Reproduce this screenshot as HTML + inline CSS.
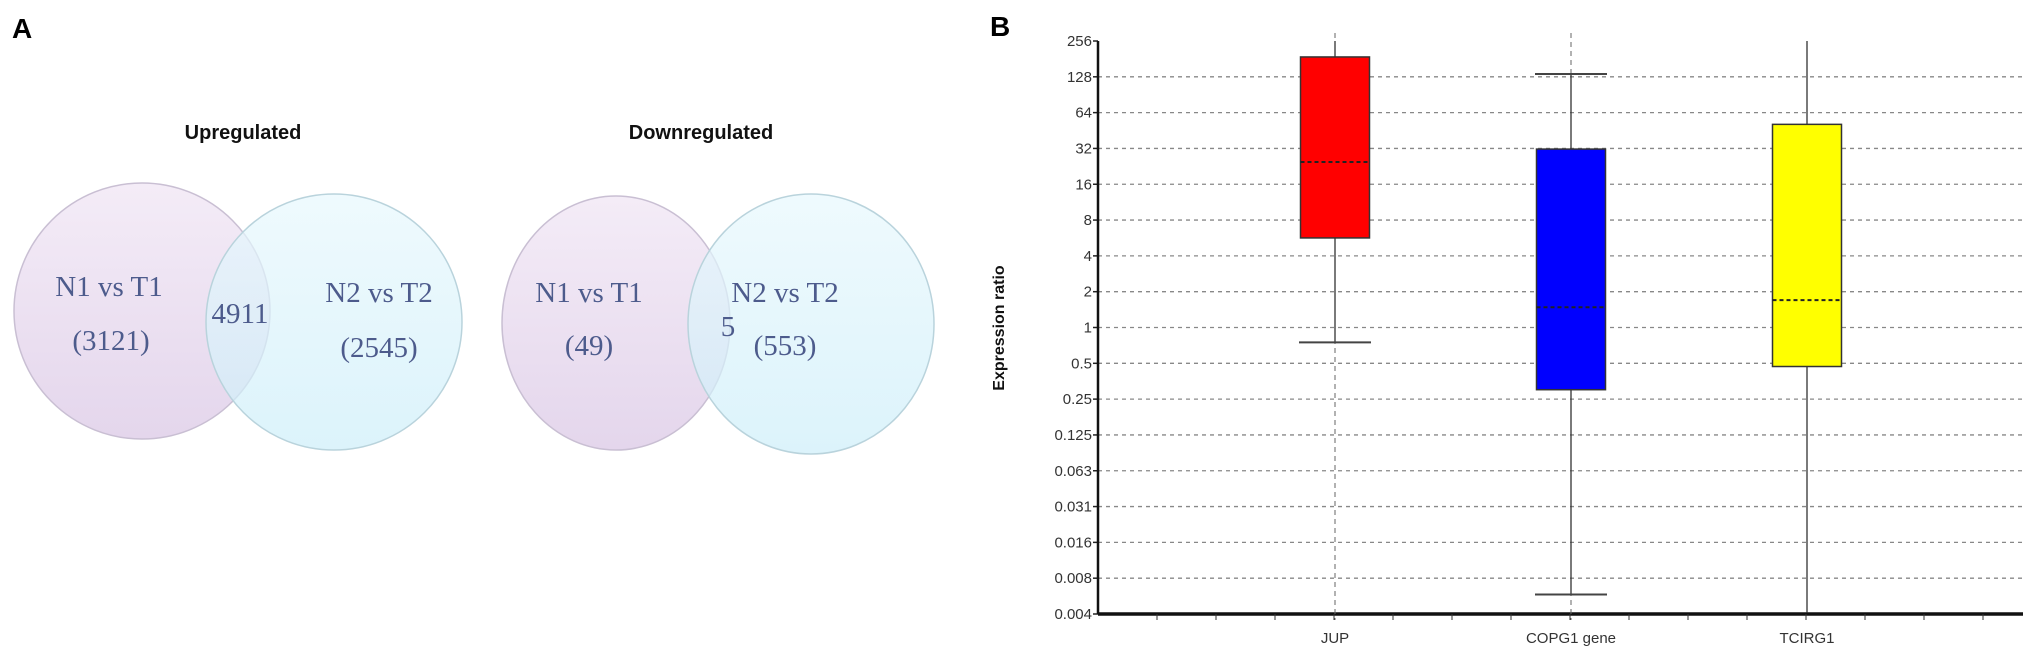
<!DOCTYPE html>
<html><head><meta charset="utf-8"><style>
body{margin:0;background:#fff;width:2031px;height:661px;overflow:hidden}
svg{display:block}
.v{font-family:"Liberation Serif",serif;fill:#4d5b8c;font-size:29px;text-anchor:middle}
.t{font-family:"Liberation Sans",sans-serif;font-weight:bold;font-size:20px;text-anchor:middle;fill:#111}
.tk{font-family:"Liberation Sans",sans-serif;font-size:15px;fill:#333;text-anchor:end}
.cl{font-family:"Liberation Sans",sans-serif;font-size:15px;fill:#333;text-anchor:middle}
</style></head><body>
<svg id="s" width="2031" height="661">
<defs>
<linearGradient id="gp" x1="0" y1="0" x2="0" y2="1"><stop offset="0" stop-color="#f4ecf7"/><stop offset="1" stop-color="#e4d6ec"/></linearGradient>
<linearGradient id="gc" x1="0" y1="0" x2="0" y2="1"><stop offset="0" stop-color="#e8f8fd"/><stop offset="1" stop-color="#cdeef9"/></linearGradient>
</defs>
<text x="12" y="38" font-family="Liberation Sans" font-weight="bold" font-size="28">A</text>
<text x="990" y="36" font-family="Liberation Sans" font-weight="bold" font-size="28">B</text>
<g>
<text class="t" x="243" y="139">Upregulated</text>
<circle cx="142" cy="311" r="128" fill="url(#gp)" stroke="#c9bfd3" stroke-width="1.5"/>
<circle cx="334" cy="322" r="128" fill="url(#gc)" fill-opacity="0.7" stroke="#b9d3dc" stroke-width="1.5"/>
<text class="v" x="109" y="296">N1 vs T1</text>
<text class="v" x="111" y="350">(3121)</text>
<text class="v" x="240" y="323" font-size="22" fill="#2a3560">4911</text>
<text class="v" x="379" y="302" fill="#6d7690">N2 vs T2</text>
<text class="v" x="379" y="357" fill="#6d7690">(2545)</text>
</g>
<g>
<text class="t" x="701" y="139">Downregulated</text>
<ellipse cx="616" cy="323" rx="114" ry="127" fill="url(#gp)" stroke="#c9bfd3" stroke-width="1.5"/>
<ellipse cx="811" cy="324" rx="123" ry="130" fill="url(#gc)" fill-opacity="0.7" stroke="#b9d3dc" stroke-width="1.5"/>
<text class="v" x="589" y="302">N1 vs T1</text>
<text class="v" x="589" y="355">(49)</text>
<text class="v" x="728" y="336" font-size="22" fill="#2a3560">5</text>
<text class="v" x="785" y="302" fill="#6d7690">N2 vs T2</text>
<text class="v" x="785" y="355" fill="#6d7690">(553)</text>
</g>
<g id="chart"></g>
</svg>
<script>
const categories=["JUP","COPG1 gene","TCIRG1"];
const boxQ1=[5.66,0.30,0.47];
const boxQ3=[188,31.6,51];
const medians=[24.6,1.48,1.7];
const whiskerMin=[0.75,0.0057,0.004];
const whiskerMax=[256,135,256];
const colors=["#ff0000","#0000ff","#ffff00"];
const tickLabels=["256","128","64","32","16","8","4","2","1","0.5","0.25","0.125","0.063","0.031","0.016","0.008","0.004"];
const tickValues=[256,128,64,32,16,8,4,2,1,0.5,0.25,0.125,0.0625,0.03125,0.015625,0.0078125,0.00390625];
const NS="http://www.w3.org/2000/svg";
const g=document.getElementById('chart');
const X0=1098,X1=2023,Y0=41,Y1=614;
function y(v){return Y0+(8-Math.log2(v))*(Y1-Y0)/16;}
function x(i){return 1335+i*236;}
function mk(t,a,p){const e=document.createElementNS(NS,t);for(const k in a)e.setAttribute(k,a[k]);(p||g).appendChild(e);return e;}
tickValues.forEach((v,i)=>{
  if(i>0&&i<16){const l=mk('line',{x1:X0,x2:X1,y1:y(v),y2:y(v),stroke:'#888','stroke-width':1.3,'stroke-dasharray':'4 4'});
  
  }
  mk('line',{x1:X0-5,x2:X0,y1:y(v),y2:y(v),stroke:'#222','stroke-width':1.5});
  const t=mk('text',{x:X0-6,y:y(v)+5,class:'tk'});t.textContent=tickLabels[i];
  
  
});
const ax=mk('line',{x1:X0,x2:X0,y1:Y0,y2:Y1,stroke:'#111','stroke-width':2.5});


const bx=mk('line',{x1:X0,x2:X1,y1:Y1,y2:Y1,stroke:'#111','stroke-width':3.5});


for(let k=0;k<16;k++){const xx=X0+(k+1)*59;mk('line',{x1:xx,x2:xx,y1:Y1,y2:Y1+6,stroke:'#333','stroke-width':1});}
const yt=mk('text',{x:0,y:0,transform:'translate(1004,328) rotate(-90)','font-family':'Liberation Sans','font-weight':'bold','font-size':'16','text-anchor':'middle',fill:'#111'});
yt.textContent='Expression ratio';


categories.forEach((c,i)=>{
  const cx=x(i),w=69;
  if(i<2){const d=mk('line',{x1:cx,x2:cx,y1:Y0-8,y2:Y1+6,stroke:'#666','stroke-width':1,'stroke-dasharray':'5 4'});}
  const wl=mk('line',{x1:cx,x2:cx,y1:y(whiskerMax[i]),y2:y(whiskerMin[i]),stroke:'#333','stroke-width':1.3});
  
  
  [whiskerMin[i],whiskerMax[i]].forEach(v=>{if(v>0.0042&&v<250)mk('line',{x1:cx-36,x2:cx+36,y1:y(v),y2:y(v),stroke:'#444','stroke-width':2});});
  const b=mk('rect',{x:cx-w/2,y:y(boxQ3[i]),width:w,height:y(boxQ1[i])-y(boxQ3[i]),fill:colors[i],stroke:'#333','stroke-width':1.5});
  
  
  const m=mk('line',{x1:cx-w/2,x2:cx+w/2,y1:y(medians[i]),y2:y(medians[i]),stroke:'#222','stroke-width':2,'stroke-dasharray':'4 3'});
  
  
  const t=mk('text',{x:cx,y:643,class:'cl'});t.textContent=c;
  
  
});
</script>
</body></html>
